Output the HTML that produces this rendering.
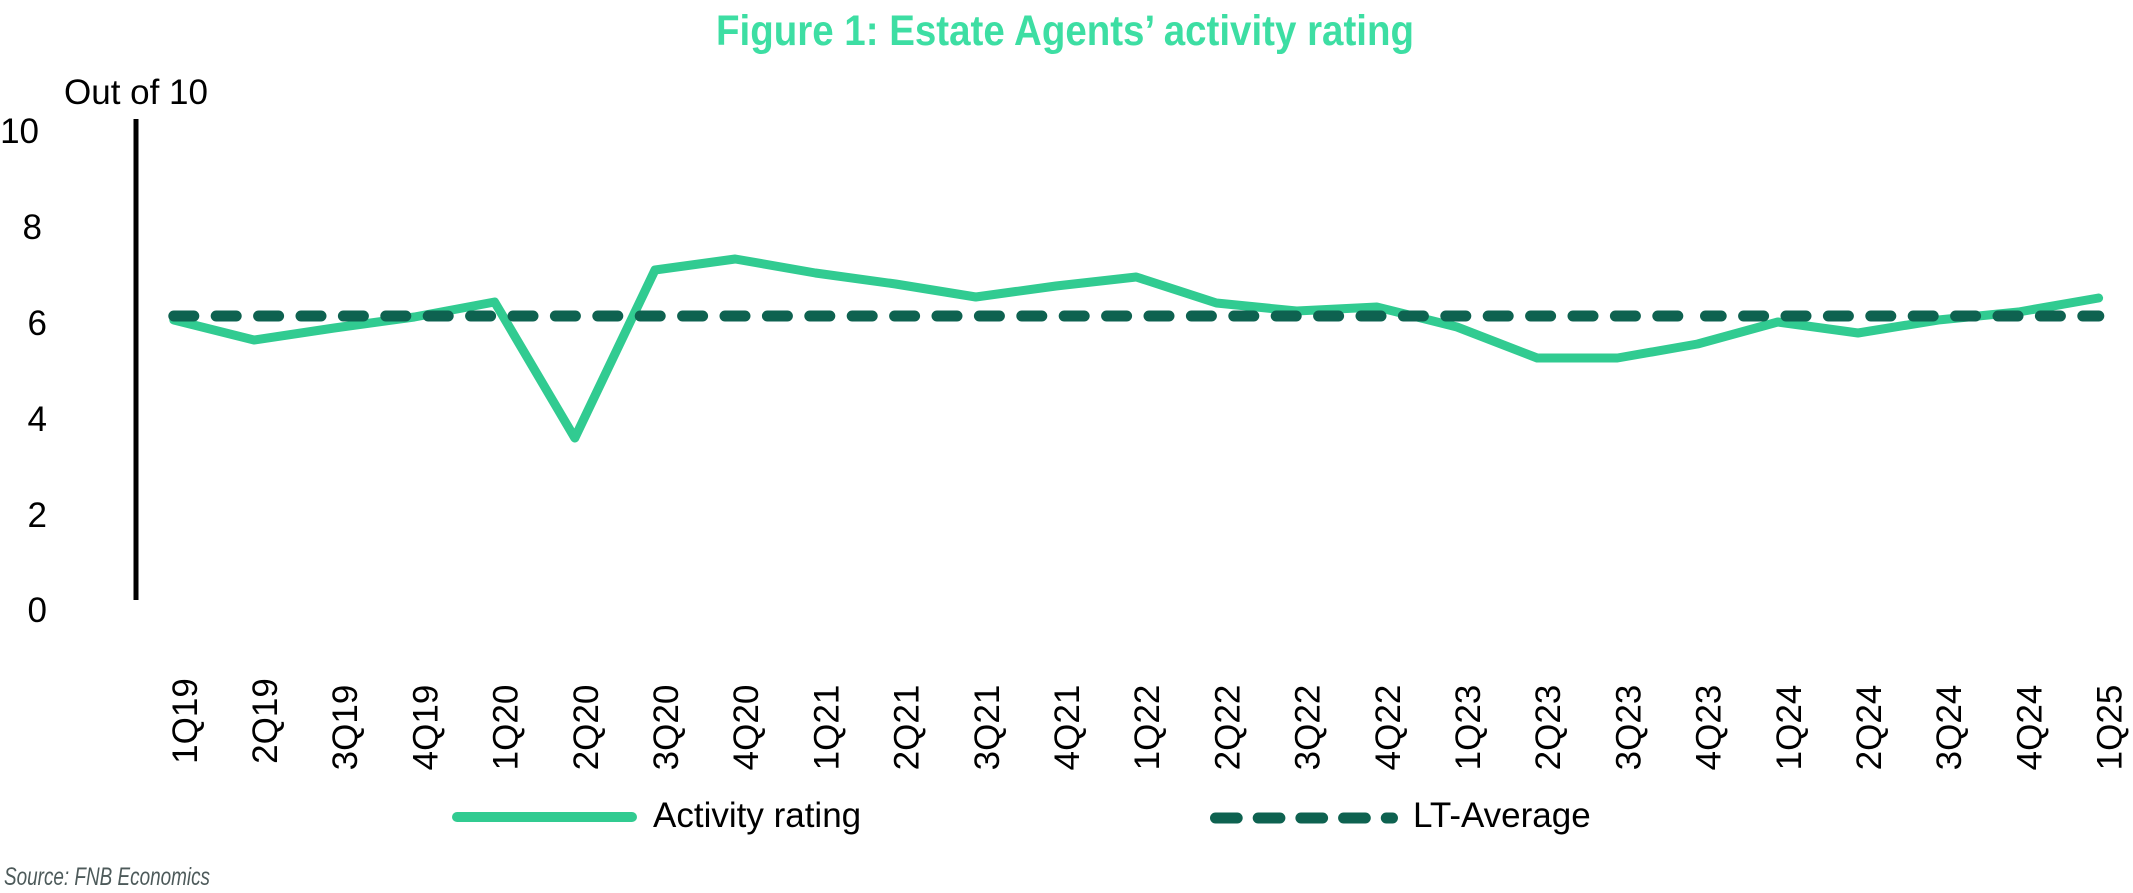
<!DOCTYPE html>
<html>
<head>
<meta charset="utf-8">
<style>
  html, body { margin: 0; padding: 0; background: #ffffff; }
  body { width: 2133px; height: 893px; overflow: hidden; }
  svg { display: block; }
  text { font-family: "Liberation Sans", "DejaVu Sans", sans-serif; fill: #000; }
</style>
</head>
<body>
<svg width="2133" height="893" viewBox="0 0 2133 893" xmlns="http://www.w3.org/2000/svg">
  <rect x="0" y="0" width="2133" height="893" fill="#ffffff"/>

  <!-- Title -->
  <text x="716" y="45" font-size="43" font-weight="bold" textLength="698" lengthAdjust="spacingAndGlyphs"
        style="font-family:'Liberation Sans Narrow','Liberation Sans',sans-serif;fill:#3ddea3;">Figure 1: Estate Agents’ activity rating</text>

  <!-- Axis title -->
  <text x="64" y="104" font-size="35">Out of 10</text>

  <!-- Y axis line -->
  <line x1="136" y1="119" x2="136" y2="600" stroke="#000" stroke-width="5"/>

  <!-- Y labels -->
  <g font-size="35" text-anchor="end">
    <text x="39" y="143">10</text>
    <text x="42" y="239">8</text>
    <text x="47" y="335">6</text>
    <text x="47" y="431">4</text>
    <text x="47" y="527">2</text>
    <text x="47" y="622">0</text>
  </g>

  <!-- Activity rating line -->
  <polyline fill="none" stroke="#31cb91" stroke-width="9" stroke-linejoin="round" stroke-linecap="round"
    points="173.8,320 254,340 334.2,328 414.4,317 494.6,302 574.8,438 655,270 735.2,259 815.4,273 895.6,284 975.8,297 1056,286 1136.2,277 1216.4,303 1296.6,311 1376.8,307 1457,327 1537.2,358 1617.4,358 1697.6,344 1777.8,322 1858,333 1938.2,320 2018.4,312 2098.6,298"/>

  <!-- LT-Average dashed line -->
  <line x1="173.8" y1="316" x2="1677.8" y2="316" stroke="#0e6250" stroke-width="11" stroke-linecap="round" stroke-dasharray="20 22.4"/>
  <line x1="1705.5" y1="316" x2="2098.8" y2="316" stroke="#0e6250" stroke-width="11" stroke-linecap="round" stroke-dasharray="20 22.4" stroke-dashoffset="4.3"/>

  <!-- X labels -->
  <g font-size="35" text-anchor="middle">
    <text transform="translate(196.8,721) rotate(-90)">1Q19</text>
    <text transform="translate(277,721) rotate(-90)">2Q19</text>
    <text transform="translate(357.2,727.5) rotate(-90)">3Q19</text>
    <text transform="translate(437.4,727.5) rotate(-90)">4Q19</text>
    <text transform="translate(517.6,727.5) rotate(-90)">1Q20</text>
    <text transform="translate(597.8,727.5) rotate(-90)">2Q20</text>
    <text transform="translate(678,727.5) rotate(-90)">3Q20</text>
    <text transform="translate(758.2,727.5) rotate(-90)">4Q20</text>
    <text transform="translate(838.4,727.5) rotate(-90)">1Q21</text>
    <text transform="translate(918.6,727.5) rotate(-90)">2Q21</text>
    <text transform="translate(998.8,727.5) rotate(-90)">3Q21</text>
    <text transform="translate(1079,727.5) rotate(-90)">4Q21</text>
    <text transform="translate(1159.2,727.5) rotate(-90)">1Q22</text>
    <text transform="translate(1239.4,727.5) rotate(-90)">2Q22</text>
    <text transform="translate(1319.6,727.5) rotate(-90)">3Q22</text>
    <text transform="translate(1399.8,727.5) rotate(-90)">4Q22</text>
    <text transform="translate(1480,727.5) rotate(-90)">1Q23</text>
    <text transform="translate(1560.2,727.5) rotate(-90)">2Q23</text>
    <text transform="translate(1640.4,727.5) rotate(-90)">3Q23</text>
    <text transform="translate(1720.6,727.5) rotate(-90)">4Q23</text>
    <text transform="translate(1800.8,727.5) rotate(-90)">1Q24</text>
    <text transform="translate(1881,727.5) rotate(-90)">2Q24</text>
    <text transform="translate(1961.2,727.5) rotate(-90)">3Q24</text>
    <text transform="translate(2041.4,727.5) rotate(-90)">4Q24</text>
    <text transform="translate(2121.6,727.5) rotate(-90)">1Q25</text>
  </g>

  <!-- Legend -->
  <line x1="457" y1="817" x2="632" y2="817" stroke="#31cb91" stroke-width="10" stroke-linecap="round"/>
  <text x="653" y="827" font-size="35">Activity rating</text>

  <line x1="1215.5" y1="818" x2="1392.5" y2="818" stroke="#0e6250" stroke-width="11" stroke-linecap="round" stroke-dasharray="21.7 21"/>
  <text x="1413" y="827" font-size="35">LT-Average</text>

  <!-- Source -->
  <text x="4" y="885" font-size="25" font-style="italic" textLength="206" lengthAdjust="spacingAndGlyphs"
        style="font-family:'Liberation Sans Narrow','Liberation Sans',sans-serif;fill:#4d5a5a;">Source: FNB Economics</text>
</svg>
</body>
</html>
